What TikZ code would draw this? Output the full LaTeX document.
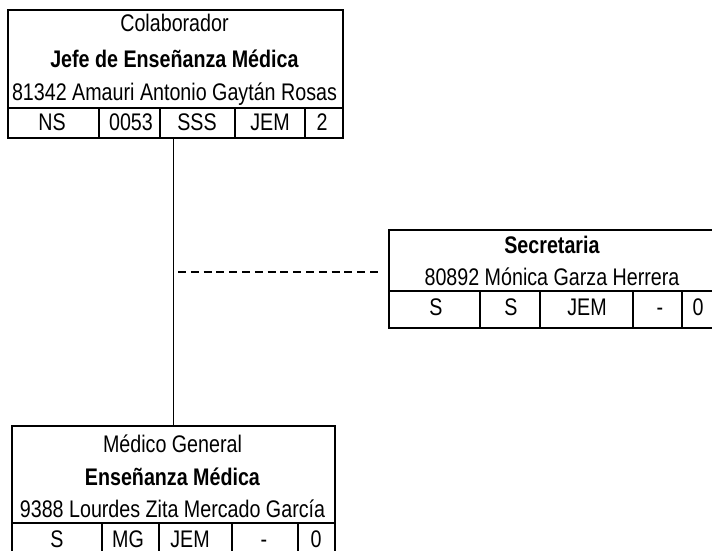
\documentclass[tikz,border=0pt]{standalone}
\usepackage{fontspec}
\setmainfont{Liberation Sans}[FakeStretch=0.82]
\begin{document}
\begin{tikzpicture}[%
	x=1pt,y=-1pt,%
	box/.style ={draw, line width=2.2pt, inner sep=0pt, anchor=north west},%
	rule/.style ={line width=2.2pt},%
	link/.style ={line width=1.6pt},%
	txt/.style ={inner sep=0pt, anchor=base, font=\fontsize{24}{28}\selectfont},%
	]
\useasboundingbox (0,0) rectangle (712,551);
%%% colaborador
	\node [box, minimum width=335pt, minimum height=128pt] (colab) at (7,9) {};
	\draw [rule] (7,108) -- (342,108);
	\foreach \x in {99,160,235,305}
		{\draw [rule] (\x,108) -- (\x,137);}
	\node [txt] (colabrol) at (174.5,32) {Colaborador};
	\node [txt] (colabpuesto) at (174.5,67) {\textbf{Jefe de Enseñanza Médica}};
	\node [txt] (colabnombre) at (174.5,100) {81342 Amauri Antonio Gaytán Rosas};
	\foreach \x/\t [count=\i] in {52/NS,131/0053,197/SSS,270/JEM,322/2}
		{\node [txt] (colab\i) at (\x,130) {\t};}
%%% colaborador
%%% secretaria
	\node [box, minimum width=327pt, minimum height=98pt] (secre) at (388,229) {};
	\draw [rule] (388,291) -- (715,291);
	\foreach \x in {480,540,633,682}
		{\draw [rule] (\x,291) -- (\x,327);}
	\node [txt] (secrepuesto) at (552,253) {\textbf{Secretaria}};
	\node [txt] (secrenombre) at (552,285) {80892 Mónica Garza Herrera};
	\foreach \x/\t [count=\i] in {436/S,511/S,587/JEM,660/-,698/0}
		{\node [txt] (secre\i) at (\x,315) {\t};}
%%% secretaria
%%% medico
	\node [box, minimum width=323pt, minimum height=128pt] (medico) at (11,425) {};
	\draw [rule] (11,523) -- (334,523);
	\foreach \x in {102,159,232,298}
		{\draw [rule] (\x,523) -- (\x,553);}
	\node [txt] (medicorol) at (172.5,452) {Médico General};
	\node [txt] (medicopuesto) at (172.5,485) {\textbf{Enseñanza Médica}};
	\node [txt] (mediconombre) at (172.5,517) {9388 Lourdes Zita Mercado García};
	\foreach \x/\t [count=\i] in {57/S,128/MG,190/JEM,264/-,316/0}
		{\node [txt] (medico\i) at (\x,547) {\t};}
%%% medico
%%% links
	\draw [link] (medico.north |- colab.south) -- (medico.north);
	\coordinate (tap) at (178,272);
	\draw [link, dash pattern=on 8pt off 4.8pt, shorten >=6pt] (tap) -- (tap -| secre.west);
%%% links
\end{tikzpicture}
\end{document}
